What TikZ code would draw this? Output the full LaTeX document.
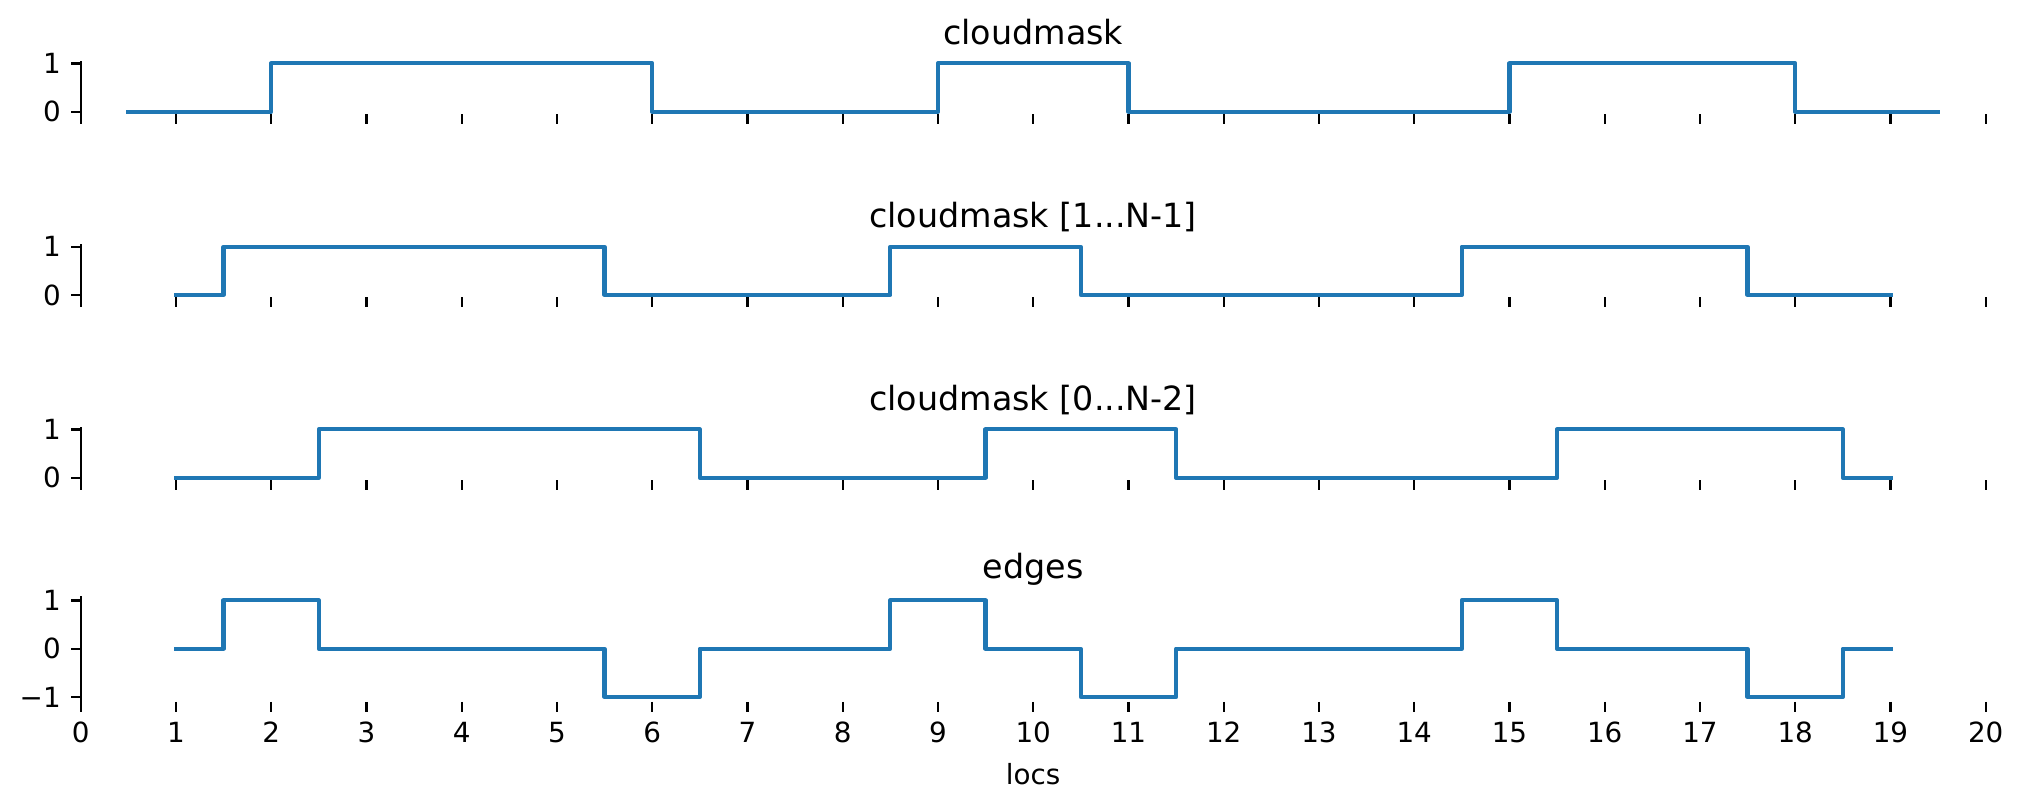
\documentclass[tikz,border=0pt]{standalone}
\usepackage{fontspec}
\setmainfont{DejaVu Sans}
\usetikzlibrary{positioning}
\definecolor{plotblue}{HTML}{1F77B4}

\begin{document}
\begin{tikzpicture}[x=34.29pt,y=17.388pt,
	signal/.style={draw=plotblue,line width=1.5pt,line join=round,line cap=rect},
	spine/.style={draw=black,line width=0.8pt},
	tickmark/.style={draw=black,line width=0.8pt},
	ticklabel/.style={inner sep=0pt,font=\fontsize{10}{12}\selectfont},
	plottitle/.style={inner sep=0pt,anchor=base,font=\fontsize{12}{14}\selectfont}]
	\useasboundingbox (-0.8472,2.3126) rectangle (20.392,-14.416);

	\foreach \p/\s/\name in {1/0/{cloudmask},2/-3.795/{cloudmask [1...N-1]},3/-7.578/{cloudmask [0...N-2]}} {
		\begin{scope}[shift={(0,\s)}]
			\draw[spine] (0,-0.05) -- (0,1.05);
			\foreach \v in {0,1} {
				\draw[tickmark] (0,\v) -- ++(-3.5pt,0);
				\node[ticklabel,anchor=east] (y\p\v) at ([xshift=-7pt]0,\v) {\v};
			}
			\foreach \x in {0,...,20}
				\draw[tickmark] (\x,-0.05) -- ++(0,-3.5pt);
			\node[plottitle] (t\p) at ([yshift=6pt]10,1.05) {\name};
		\end{scope}
	}

	\draw[signal] (0.5,0) -| (2,1) -| (6,0) -| (9,1) -| (11,0) -| (15,1) -| (18,0) -- (19.5,0);
	\begin{scope}[shift={(0,-3.795)}]
		\draw[signal] (1,0) -| (1.5,1) -| (5.5,0) -| (8.5,1) -| (10.5,0) -| (14.5,1) -| (17.5,0) -- (19,0);
	\end{scope}
	\begin{scope}[shift={(0,-7.578)}]
		\draw[signal] (1,0) -| (2.5,1) -| (6.5,0) -| (9.5,1) -| (11.5,0) -| (15.5,1) -| (18.5,0) -- (19,0);
	\end{scope}

	\begin{scope}[shift={(0,-11.118)}]
		\draw[spine] (0,-1.1) -- (0,1.1);
		\foreach \v/\lab in {-1/{−1},0/0,1/1} {
			\draw[tickmark] (0,\v) -- ++(-3.5pt,0);
			\node[ticklabel,anchor=east] (y4\v) at ([xshift=-7pt]0,\v) {\lab};
		}
		\foreach \x in {0,...,20} {
			\draw[tickmark] (\x,-1.1) -- ++(0,-3.5pt);
			\node[ticklabel,anchor=north] (xl\x) at ([yshift=-7pt]\x,-1.1) {\x};
		}
		\node[plottitle] (t4) at ([yshift=6pt]10,1.1) {edges};
		\draw[signal] (1,0) -| (1.5,1) -| (2.5,0) -| (5.5,-1) -| (6.5,0) -| (8.5,1) -| (9.5,0) -| (10.5,-1) -| (11.5,0) -| (14.5,1) -| (15.5,0) -| (17.5,-1) -| (18.5,0) -- (19,0);
	\end{scope}
	\node[ticklabel,below=7pt of xl10] (xlabel) {locs};
\end{tikzpicture}
\end{document}
